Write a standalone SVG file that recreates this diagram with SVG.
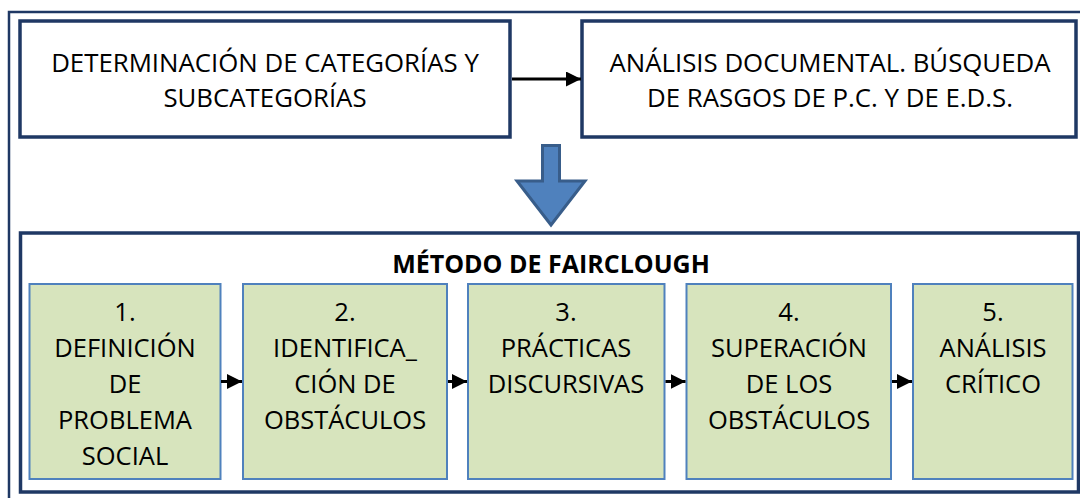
<svg xmlns="http://www.w3.org/2000/svg" width="1080" height="498" viewBox="0 0 1080 498">
<defs>
<style>
.frame{fill:none;stroke:#1F3864;stroke-width:2.5}
.top{fill:#FFFFFF;stroke:#1F3864;stroke-width:3.5}
.big{fill:#FFFFFF;stroke:#1F3864;stroke-width:3.5}
.step{fill:#D7E4BD;stroke:#4F81BD;stroke-width:2}
.t{font-family:"Open Sans","Liberation Sans",sans-serif;font-size:25.5px;fill:#000;text-anchor:middle}
.tt{font-family:"Open Sans","Liberation Sans",sans-serif;font-size:25.8px;fill:#000;text-anchor:middle}
.title{font-family:"Open Sans","Liberation Sans",sans-serif;font-size:25px;font-weight:bold;fill:#000;text-anchor:middle}
.conn{stroke:#000;stroke-width:3;fill:none}
</style>
<marker id="ah" viewBox="0 0 10 10" refX="10" refY="5" markerWidth="5" markerHeight="5" markerUnits="strokeWidth" orient="auto">
<path d="M0,0 L10,5 L0,10 Z" fill="#000"/>
</marker>
</defs>
<rect x="0" y="0" width="1080" height="498" fill="#FFFFFF"/>
<rect id="outer" class="frame" x="9" y="12" width="1090" height="500"/>
<g id="node-determinacion">
<rect class="top" x="20" y="21" width="490" height="116"/>
<text class="tt" x="265" y="72">DETERMINACIÓN DE CATEGORÍAS Y</text>
<text class="tt" x="265" y="107">SUBCATEGORÍAS</text>
</g>
<g id="node-analisis-documental">
<rect class="top" x="582" y="21" width="494" height="116"/>
<text class="tt" x="830" y="72">ANÁLISIS DOCUMENTAL. BÚSQUEDA</text>
<text class="tt" x="830" y="107">DE RASGOS DE P.C. Y DE E.D.S.</text>
</g>
<g id="node-block-arrow">
<path d="M542.5,145.5 L559.5,145.5 L559.5,181 L585,181 L551,225 L517,181 L542.5,181 Z" fill="#4F81BD" stroke="#385D8A" stroke-width="3" stroke-linejoin="miter"/>
</g>
<g id="node-fairclough">
<rect class="big" x="20.5" y="233" width="1058" height="259"/>
<text class="title" x="551" y="273">MÉTODO DE FAIRCLOUGH</text>
</g>
<g id="node-step1">
<rect class="step" x="29.5" y="284" width="191" height="195"/>
<text class="t" x="125" y="321">1.</text>
<text class="t" x="125" y="357">DEFINICIÓN</text>
<text class="t" x="125" y="393">DE</text>
<text class="t" x="125" y="429">PROBLEMA</text>
<text class="t" x="125" y="465">SOCIAL</text>
</g>
<g id="node-step2">
<rect class="step" x="243" y="284" width="204" height="195"/>
<text class="t" x="345" y="321">2.</text>
<text class="t" x="345" y="357">IDENTIFICA_</text>
<text class="t" x="345" y="393">CIÓN DE</text>
<text class="t" x="345" y="429">OBSTÁCULOS</text>
</g>
<g id="node-step3">
<rect class="step" x="468" y="284" width="196.5" height="195"/>
<text class="t" x="566" y="321">3.</text>
<text class="t" x="566" y="357">PRÁCTICAS</text>
<text class="t" x="566" y="393">DISCURSIVAS</text>
</g>
<g id="node-step4">
<rect class="step" x="686.5" y="284" width="204.5" height="195"/>
<text class="t" x="789" y="321">4.</text>
<text class="t" x="789" y="357">SUPERACIÓN</text>
<text class="t" x="789" y="393">DE LOS</text>
<text class="t" x="789" y="429">OBSTÁCULOS</text>
</g>
<g id="node-step5">
<rect class="step" x="913" y="284" width="159.5" height="195"/>
<text class="t" x="993" y="321">5.</text>
<text class="t" x="993" y="357">ANÁLISIS</text>
<text class="t" x="993" y="393">CRÍTICO</text>
</g>
<g id="connectors">
<line class="conn" x1="512" y1="79" x2="581" y2="79" marker-end="url(#ah)"/>
<line class="conn" x1="221" y1="381.5" x2="242" y2="381.5" marker-end="url(#ah)"/>
<line class="conn" x1="448" y1="381.5" x2="467" y2="381.5" marker-end="url(#ah)"/>
<line class="conn" x1="665.5" y1="381.5" x2="685.5" y2="381.5" marker-end="url(#ah)"/>
<line class="conn" x1="892" y1="381.5" x2="912" y2="381.5" marker-end="url(#ah)"/>
</g>
</svg>
